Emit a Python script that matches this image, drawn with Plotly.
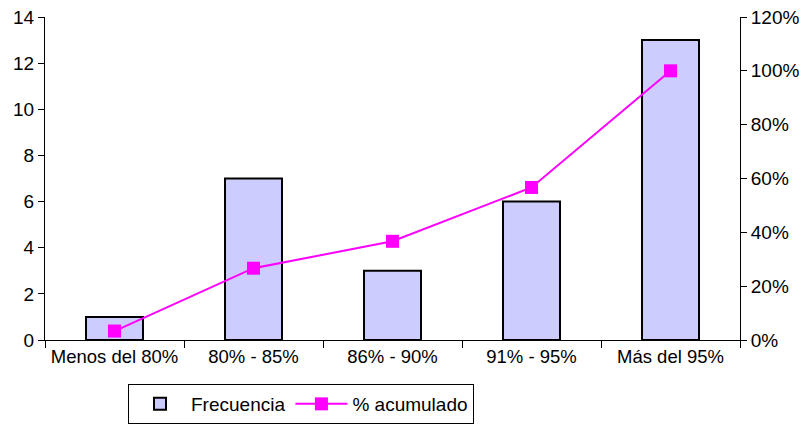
import plotly.graph_objects as go

categorias = ["Menos del 80%", "80% - 85%", "86% - 90%", "91% - 95%", "Más del 95%"]
frecuencia = [1, 7, 3, 6, 13]
acumulado = [3.33, 26.67, 36.67, 56.67, 100.0]

fig = go.Figure()
fig.add_trace(go.Bar(
    x=categorias, y=frecuencia, name="Frecuencia",
    marker=dict(color="#CCCCFF", line=dict(color="black", width=2)),
    yaxis="y",
))
fig.add_trace(go.Scatter(
    x=categorias, y=acumulado, name="% acumulado", mode="lines+markers",
    line=dict(color="#FF00FF", width=2),
    marker=dict(symbol="square", size=13, color="#FF00FF"),
    yaxis="y2",
))

font = dict(family="Liberation Sans, Arial, sans-serif", size=19, color="black")
fig.update_layout(
    width=811, height=427,
    margin=dict(l=45, r=71, t=17, b=87, autoexpand=False),
    paper_bgcolor="white", plot_bgcolor="white",
    font=font,
    bargap=0.59,
    showlegend=True,
    legend=dict(orientation="h", x=128 / 811, y=1 - 424 / 427, xref="container",
                yref="container", xanchor="left", yanchor="bottom",
                bordercolor="black", borderwidth=1, font=dict(size=19),
                itemwidth=52, tracegroupgap=0),
    xaxis=dict(showline=True, linecolor="black", linewidth=1, ticks="outside",
               tickson="boundaries", ticklen=7, tickcolor="black", automargin=False,
               tickangle=0, tickfont=dict(size=18.5), showgrid=False, zeroline=False),
    yaxis=dict(range=[0, 14], dtick=2, showline=True, linecolor="black", linewidth=1,
               ticks="outside", ticklen=6, tickcolor="black", showgrid=False,
               zeroline=False, automargin=False, tickfont=dict(size=19)),
    yaxis2=dict(range=[0, 120], dtick=20, ticksuffix="%", overlaying="y", side="right",
                showline=True, linecolor="black", linewidth=1, ticks="outside",
                ticklen=6, tickcolor="black", showgrid=False, zeroline=False,
                automargin=False, tickfont=dict(size=19)),
)

fig.write_html("out.html")
